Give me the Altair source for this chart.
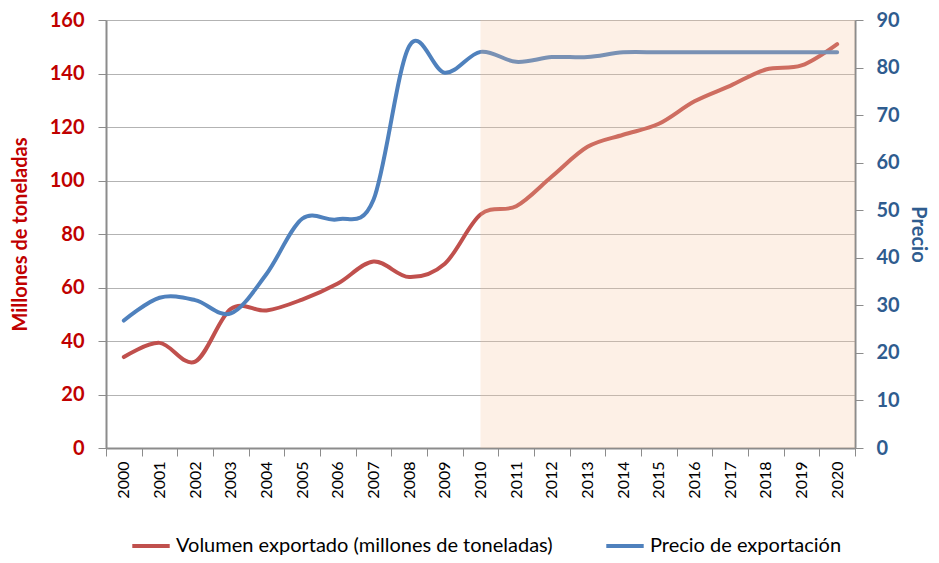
import altair as alt
import pandas as pd

years = [str(y) for y in range(2000, 2021)]
volumen = [34, 39.3, 32.3, 52, 51.4, 55.5, 61.5, 69.7, 63.9, 68.9, 87.3,
           90.4, 101.5, 112.6, 117.1, 121.2, 129.6, 135.4, 141.5, 143, 151]
precio = [26.8, 31.6, 31.1, 28.3, 36.6, 48.2, 48.1, 52.2, 84.5, 78.9, 83.3,
          81.2, 82.2, 82.2, 83.2, 83.2, 83.2, 83.2, 83.2, 83.2, 83.2]
series_names = ["Volumen exportado (millones de toneladas)", "Precio de exportación"]
series_colors = ["#c0504d", "#4f81bd"]
shade_start = "2010"

df = pd.DataFrame({"year": years, "volumen": volumen, "precio": precio})

FONT = "Lato"
RED_TXT = "#c00000"
BLUE_TXT = "#2f5c8f"
GRAY = "#8c8c8c"

color_scale = alt.Scale(domain=series_names, range=series_colors)

x_enc = alt.X(
    "year:O",
    scale=alt.Scale(type="band", paddingInner=0, paddingOuter=0),
    axis=alt.Axis(
        title=None, labelAngle=270, labelFontSize=16, labelFont=FONT,
        labelColor="#000000", tickBand="extent", tickSize=8, tickColor=GRAY,
        domainColor=GRAY, domainWidth=2, labelPadding=5, grid=False,
        labelBaseline="middle", labelAlign="right",
    ),
)

base = alt.Chart(df)

vol = base.mark_line(interpolate="cardinal", strokeWidth=4, strokeCap="round").transform_calculate(
    serie="'" + series_names[0] + "'"
).encode(
    x=x_enc,
    y=alt.Y(
        "volumen:Q",
        scale=alt.Scale(domain=[0, 160], nice=False),
        axis=alt.Axis(
            title="Millones de toneladas", titleColor=RED_TXT, titleFont=FONT,
            titleFontSize=20, titleFontWeight="bold", titlePadding=19,
            labelColor=RED_TXT, labelFont=FONT, labelFontSize=20,
            labelFontWeight="bold", values=list(range(0, 161, 20)),
            tickSize=8, tickColor=GRAY, domainColor=GRAY, domainWidth=2,
            labelPadding=14, gridColor="#b3b3b3", gridWidth=1,
        ),
    ),
    color=alt.Color(
        "serie:N", scale=color_scale,
        legend=alt.Legend(
            title=None, orient="none", legendX=24, legendY=505,
            direction="horizontal", symbolType="stroke", symbolStrokeWidth=4,
            symbolSize=1400, labelFont=FONT, labelFontSize=20, labelLimit=600,
            labelColor="#000000", columnPadding=45, labelOffset=4,
        ),
    ),
)

pre = base.mark_line(interpolate="cardinal", strokeWidth=4, strokeCap="round").transform_calculate(
    serie="'" + series_names[1] + "'"
).encode(
    x=x_enc,
    y=alt.Y(
        "precio:Q",
        scale=alt.Scale(domain=[0, 90], nice=False),
        axis=alt.Axis(
            orient="right", title="Precio", titleColor=BLUE_TXT, titleFont=FONT,
            titleFontSize=20, titleFontWeight="bold", titleAngle=90,
            titlePadding=8,
            labelColor=BLUE_TXT, labelFont=FONT, labelFontSize=20,
            labelFontWeight="bold", values=list(range(0, 91, 10)),
            tickSize=8, tickColor=GRAY, domainColor=GRAY, domainWidth=2,
            labelPadding=13, grid=False,
        ),
    ),
    color=alt.Color("serie:N", scale=color_scale),
)

shade = alt.Chart(pd.DataFrame({"start": [shade_start]})).mark_rect(
    color="#f7c39b", opacity=0.25
).encode(
    x=alt.X("start:O", bandPosition=0.5),
    x2=alt.value("width"),
    y=alt.value(0),
    y2=alt.value("height"),
)

chart = (
    alt.layer(vol, pre, shade)
    .resolve_scale(y="independent")
    .properties(
        width=749, height=428,
        autosize=alt.AutoSizeParams(type="none"),
        padding={"left": 98, "top": 12, "right": 76, "bottom": 107},
    )
    .configure_view(stroke=None)
    .configure(background="white")
)

chart.save("out.html", embed_options={"renderer": "svg", "actions": False})
